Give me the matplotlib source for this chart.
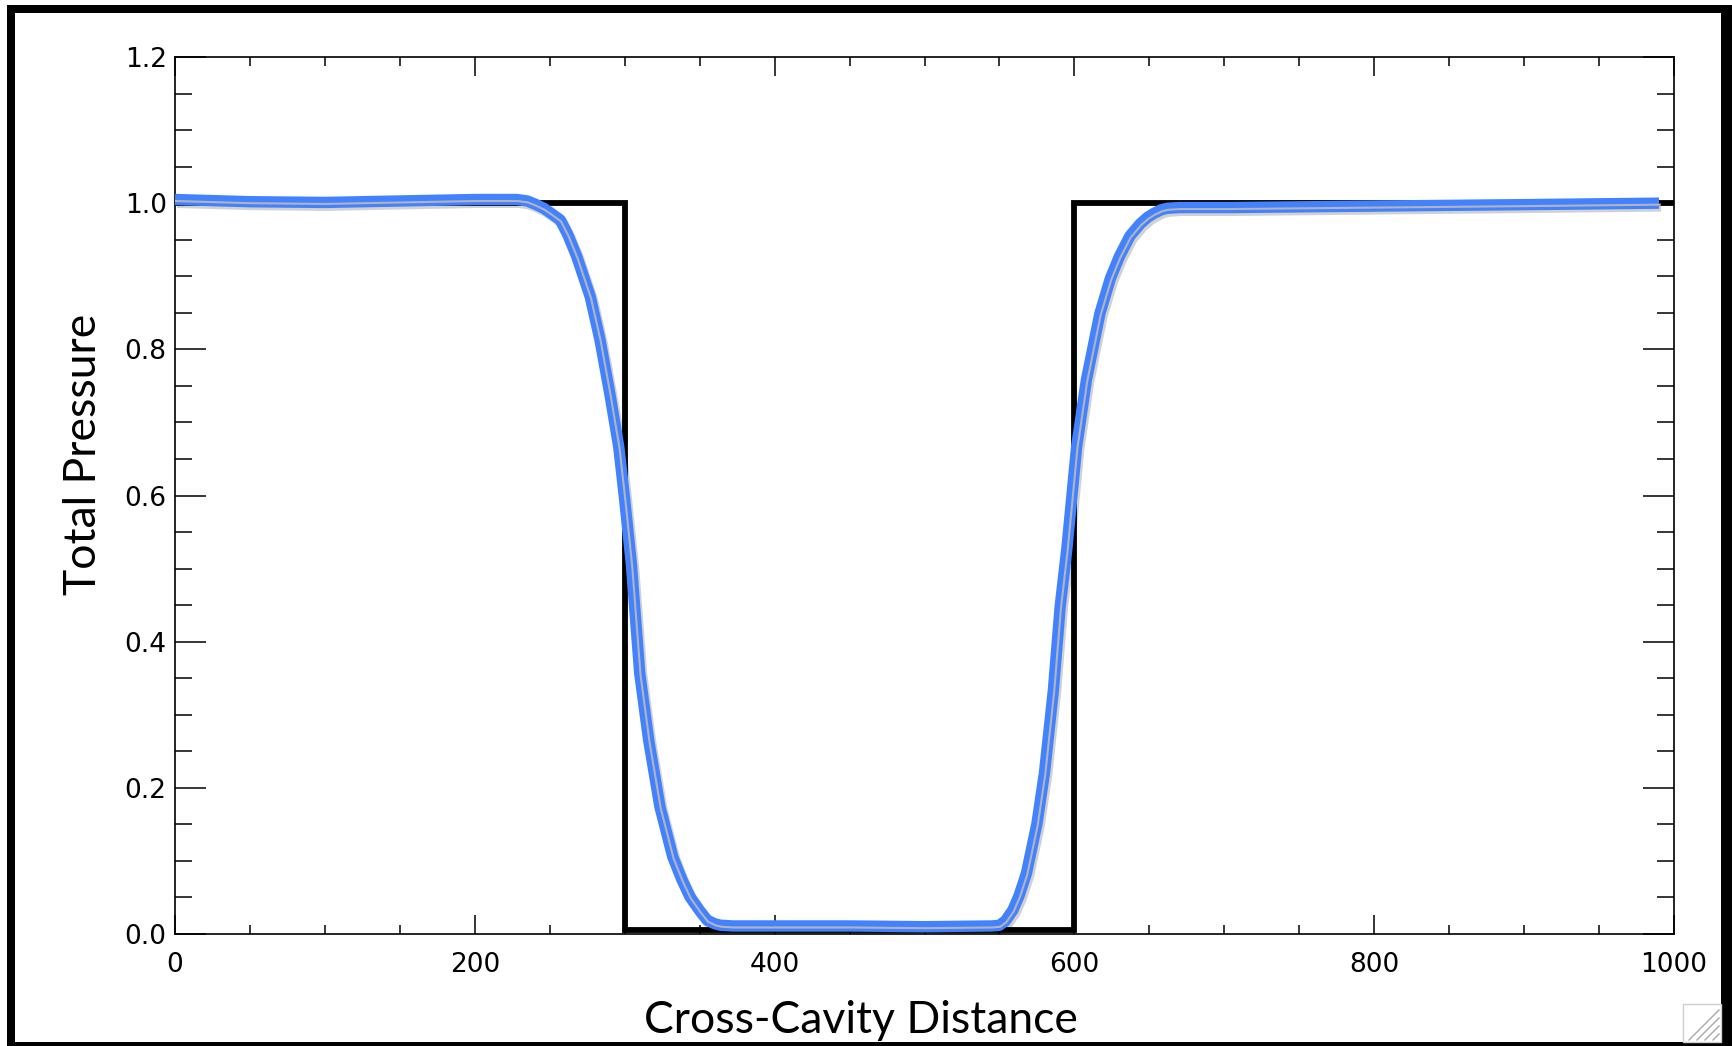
import matplotlib
matplotlib.use("Agg")
import matplotlib.pyplot as plt
import matplotlib.patheffects as pe
import matplotlib.transforms as mtransforms
from matplotlib.patches import Rectangle
from matplotlib.ticker import MultipleLocator, FormatStrFormatter

# ---- data ----
profile_x = [0, 50, 100, 150, 200, 228, 235, 241, 246, 251, 257, 262, 268, 277, 283.5,
             290, 296, 300, 304.5, 310, 316, 323.5, 332, 338, 343.5, 350, 355, 360, 364,
             372, 380, 450, 500, 545, 550, 554, 559, 563, 568, 575, 580, 586, 590.5, 595,
             601.5, 608, 617, 624, 630, 637, 644, 649, 653, 658, 662, 670, 704, 800, 900,
             990]
profile_y = [1.005, 1.002, 1.001, 1.003, 1.005, 1.005, 1.003, 0.998, 0.993, 0.986,
             0.977, 0.957, 0.927, 0.872, 0.813, 0.740, 0.667, 0.594, 0.505, 0.357,
             0.265, 0.174, 0.106, 0.075, 0.051, 0.032, 0.019, 0.014, 0.012, 0.011,
             0.011, 0.011, 0.010, 0.011, 0.012, 0.018, 0.033, 0.052, 0.083, 0.151,
             0.220, 0.334, 0.448, 0.528, 0.667, 0.758, 0.849, 0.897, 0.927, 0.955,
             0.972, 0.981, 0.986, 0.991, 0.993, 0.994, 0.994, 0.996, 0.998, 1.0]

step_x = [0, 300, 300, 600, 600, 1000]
step_y = [1.0, 1.0, 0.005, 0.005, 1.0, 1.0]

x_ticks = [0, 200, 400, 600, 800, 1000]
y_ticks = [0.0, 0.2, 0.4, 0.6, 0.8, 1.0, 1.2]

W, H = 1733, 1046
fig = plt.figure(figsize=(W / 100, H / 100), dpi=100)
fig.patch.set_facecolor("white")

left, right, top, bottom = 175, 1674, 57, 934
ax = fig.add_axes([left / W, 1 - bottom / H, (right - left) / W, (bottom - top) / H])
ax.set_xlim(0, 1000)
ax.set_ylim(0, 1.2)

# step line
ax.plot(step_x, step_y, color="black", lw=4.2, solid_joinstyle="miter", zorder=2)

# blue profile with shadow and grey bevel line
ax.plot(profile_x, profile_y, color="#4282ff", lw=8.2, solid_capstyle="butt",
        solid_joinstyle="round", zorder=3,
        path_effects=[pe.SimpleLineShadow(offset=(1.5, -2), shadow_color="black", alpha=0.18),
                      pe.Normal()])
off = mtransforms.offset_copy(ax.transData, fig=fig, x=0.8, y=-1.5, units="dots")
ax.plot(profile_x, profile_y, color="#b4b4b8", lw=1.5, zorder=4, transform=off,
        solid_joinstyle="round")

# ticks
ax.set_xticks(x_ticks)
ax.set_yticks(y_ticks)
ax.xaxis.set_minor_locator(MultipleLocator(50))
ax.yaxis.set_minor_locator(MultipleLocator(0.05))
ax.xaxis.set_major_formatter(FormatStrFormatter("%d"))
ax.yaxis.set_major_formatter(FormatStrFormatter("%.1f"))
ax.tick_params(axis="x", which="both", direction="in", top=True, bottom=True, width=1.1,
               labelsize=19, pad=13)
ax.tick_params(axis="x", which="major", length=13.5)
ax.tick_params(axis="x", which="minor", length=6.5)
ax.tick_params(axis="y", which="both", direction="in", left=True, right=True, width=1.1,
               labelsize=19, pad=6)
ax.tick_params(axis="y", which="major", length=22)
ax.tick_params(axis="y", which="minor", length=12)
for lab in ax.get_xticklabels() + ax.get_yticklabels():
    lab.set_family("DejaVu Sans")
for s in ax.spines.values():
    s.set_linewidth(1.2)

# axis labels
fig.text(861 / W, 1 - 1033 / H, "Cross-Cavity Distance", ha="center", va="baseline",
         fontsize=32, family="Lato")
fig.text(84 / W, 1 - 454 / H, "Total Pressure", ha="center", va="center", rotation=90,
         fontsize=32, family="Lato")

# outer frame
def frect(x0, y0, x1, y1, **kw):
    fig.add_artist(Rectangle((x0 / W, 1 - y1 / H), (x1 - x0) / W, (y1 - y0) / H,
                             transform=fig.transFigure, **kw))

frect(7, 5, 1733, 13, color="black", lw=0)
frect(7, 5, 15, 1046, color="black", lw=0)
frect(1721, 5, 1733, 1046, color="black", lw=0)
frect(7, 1042, 1733, 1046, color="black", lw=0)
# resize grip
frect(1683, 1004, 1721, 1042, facecolor="white", edgecolor="#cfcfcf", lw=1.0)
for d in (8, 16, 24, 32):
    fig.add_artist(plt.Line2D([(1721 - d) / W, 1719 / W], [1 - 1040 / H, 1 - (1042 - d) / H],
                              transform=fig.transFigure, color="#a8a8a8", lw=1.0))

fig.savefig("out.png", dpi=100)
